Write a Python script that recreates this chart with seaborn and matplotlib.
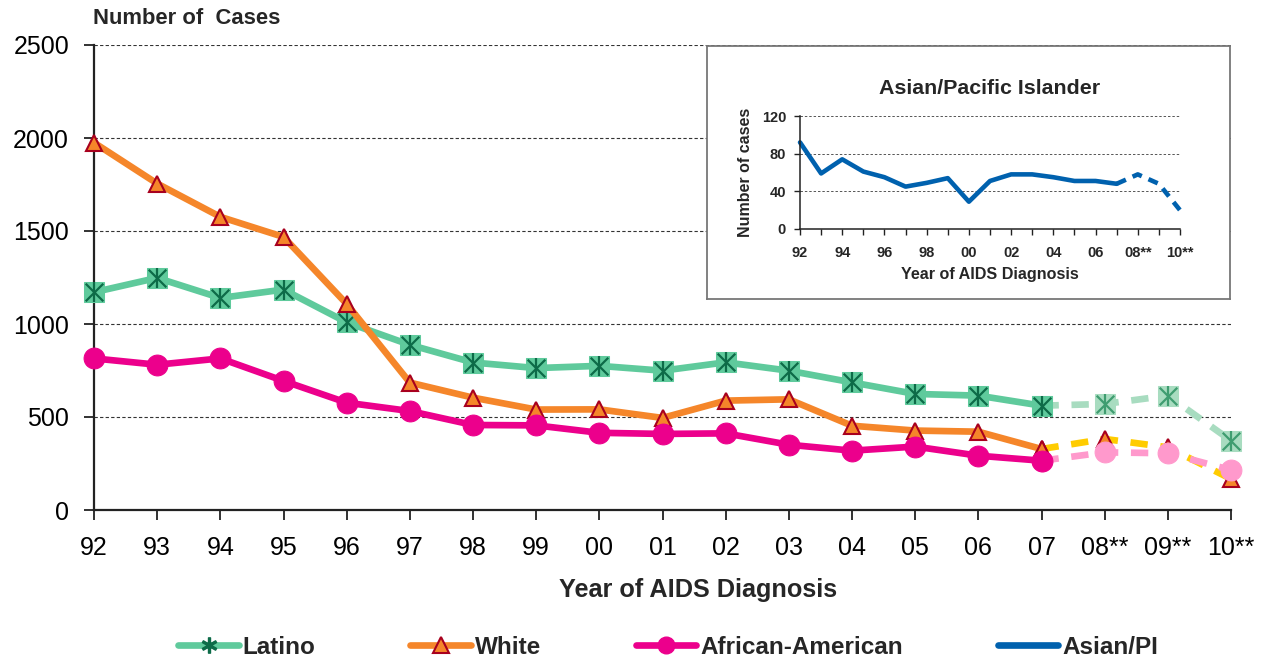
import matplotlib
matplotlib.use("Agg")
import matplotlib.pyplot as plt
from matplotlib.lines import Line2D
import seaborn as sns
import numpy as np
import pandas as pd

years = ['92', '93', '94', '95', '96', '97', '98', '99', '00', '01', '02',
         '03', '04', '05', '06', '07', '08**', '09**', '10**']
latino = [1171, 1248, 1140, 1185, 1009, 888, 793, 763, 775, 749, 794,
          749, 686, 624, 615, 561, 570, 615, 373]
white = [1975, 1755, 1576, 1468, 1108, 685, 604, 540, 541, 495, 588,
         595, 453, 427, 421, 328, 382, 337, 167]
african_american = [815, 781, 815, 694, 577, 532, 457, 455, 415, 409, 412,
                     351, 319, 341, 292, 265, 310, 305, 215]
asian_pi = [92, 59, 74, 61, 55, 45, 49, 54, 29, 51, 58, 58, 55, 51, 51,
            48, 58, 48, 20]
inset_labels = ['92', '', '94', '', '96', '', '98', '', '00', '', '02', '',
                '04', '', '06', '', '08**', '', '10**']

N_ACTUAL = 16  # 92..07 observed, 08-10 projected

sns.set_theme(style="white")
plt.rcParams['font.family'] = ['Liberation Sans', 'DejaVu Sans']

df = pd.DataFrame({'pos': np.arange(len(years)), 'year': years,
                   'Latino': latino, 'White': white,
                   'African-American': african_american, 'Asian/PI': asian_pi})
obs = df.iloc[:N_ACTUAL]
proj = df.iloc[N_ACTUAL - 1:]

fig = plt.figure(figsize=(12.62, 6.6), dpi=100)
ax = fig.add_axes([94 / 1262, 150 / 660, (1231 - 94) / 1262, (510 - 45) / 660])

LW = 4.8
G_LINE, G_DARK = '#5fca9c', '#0d6b48'
G_PALE, G_PALE_DARK = '#a8dcc0', '#3f9d70'
ORANGE, DARKRED = '#f5862a', '#a8001e'
YELLOW = '#ffcc00'
MAGENTA, PINK = '#ec008c', '#ff99cc'
BLUE = '#0061ae'
dash = (2.6, 1.9)

# projected (dashed) segments first
sns.lineplot(data=proj, x='pos', y='Latino', ax=ax, color=G_PALE, lw=LW,
             linestyle=(0, dash), marker='s', markersize=15,
             markerfacecolor=G_PALE, markeredgecolor=G_PALE, zorder=2)
sns.scatterplot(data=proj.iloc[1:], x='pos', y='Latino', ax=ax, marker='x',
                s=160, color=G_PALE_DARK, linewidth=1.6, zorder=3)
sns.scatterplot(data=proj.iloc[1:], x='pos', y='Latino', ax=ax, marker='|',
                s=200, color=G_PALE_DARK, linewidth=1.6, zorder=3)
sns.lineplot(data=proj, x='pos', y='White', ax=ax, color=YELLOW, lw=LW,
             linestyle=(0, dash), marker='^', markersize=11,
             markerfacecolor=ORANGE, markeredgecolor=DARKRED,
             markeredgewidth=1.5, zorder=2)
sns.lineplot(data=proj, x='pos', y='African-American', ax=ax, color=PINK,
             lw=LW, linestyle=(0, dash), marker='o', markersize=15,
             markerfacecolor=PINK, markeredgecolor=PINK, zorder=2)

# observed segments
sns.lineplot(data=obs, x='pos', y='Latino', ax=ax, color=G_LINE, lw=LW,
             marker='s', markersize=15, markerfacecolor=G_LINE,
             markeredgecolor=G_LINE, zorder=4)
sns.scatterplot(data=obs, x='pos', y='Latino', ax=ax, marker='x', s=160,
                color=G_DARK, linewidth=1.6, zorder=5)
sns.scatterplot(data=obs, x='pos', y='Latino', ax=ax, marker='|', s=200,
                color=G_DARK, linewidth=1.6, zorder=5)
sns.lineplot(data=obs, x='pos', y='White', ax=ax, color=ORANGE, lw=LW,
             marker='^', markersize=11, markerfacecolor=ORANGE,
             markeredgecolor=DARKRED, markeredgewidth=1.5, zorder=6)
sns.lineplot(data=obs, x='pos', y='African-American', ax=ax, color=MAGENTA,
             lw=LW, marker='o', markersize=15, markerfacecolor=MAGENTA,
             markeredgecolor=MAGENTA, zorder=7)

ax.set_xlim(0, len(years) - 1)
ax.set_ylim(0, 2500)
ax.set_xticks(df['pos'])
ax.set_xticklabels(years)
ax.set_yticks([0, 500, 1000, 1500, 2000, 2500])
ax.set_xlabel('')
ax.set_ylabel('')
ax.tick_params(axis='both', direction='out', length=7, width=1.3,
               color='#222222', labelsize=18, labelcolor='black',
               bottom=True, left=True)
ax.tick_params(axis='x', pad=12)
ax.tick_params(axis='y', pad=11)
ax.grid(axis='y', color='#333333', linestyle=(0, (3, 2)), lw=0.8)
ax.grid(axis='x', visible=False)
for s in ['top', 'right']:
    ax.spines[s].set_visible(False)
for s in ['left', 'bottom']:
    ax.spines[s].set_color('#222222')
    ax.spines[s].set_linewidth(1.6)
ax.set_axisbelow(True)
for c in ax.collections:
    c.set_clip_on(False)
for l in ax.lines:
    l.set_clip_on(False)

fig.text(93 / 1262, 1 - 19 / 660, 'Number of  Cases', fontsize=15.8,
         fontweight='bold', ha='left', va='center')
fig.text(698 / 1262, 1 - 590 / 660, 'Year of AIDS Diagnosis', fontsize=18.2,
         fontweight='bold', ha='center', va='center')

# inset frame
box = fig.add_axes([707 / 1262, (660 - 299) / 660, (1230 - 707) / 1262,
                    (299 - 46) / 660])
box.set_xticks([])
box.set_yticks([])
box.set_facecolor('white')
for s in box.spines.values():
    s.set_color('#777777')
    s.set_linewidth(1.3)
box.set_zorder(10)

iax = fig.add_axes([800 / 1262, (660 - 229) / 660, 380 / 1262, 113 / 660])
iax.set_zorder(11)
iax.patch.set_alpha(0)
sns.lineplot(data=obs, x='pos', y='Asian/PI', ax=iax, color=BLUE, lw=3.3)
sns.lineplot(data=proj, x='pos', y='Asian/PI', ax=iax, color=BLUE, lw=3.3,
             linestyle=(0, (2.2, 1.6)))
for l in iax.lines:
    l.set_clip_on(False)
iax.set_xlim(0, len(years) - 1)
iax.set_ylim(0, 120)
iax.set_yticks([0, 40, 80, 120])
iax.set_xticks(df['pos'])
iax.set_xticklabels(inset_labels)
iax.tick_params(axis='both', direction='out', length=4, width=1,
                labelsize=10.5, color='#222222', bottom=True, left=True)
iax.tick_params(axis='x', pad=8)
iax.tick_params(axis='y', pad=6)
for t in iax.get_xticklabels() + iax.get_yticklabels():
    t.set_fontweight('bold')
iax.grid(axis='y', color='#555555', linestyle=(0, (2.5, 2)), lw=0.7)
iax.grid(axis='x', visible=False)
for s in ['top', 'right']:
    iax.spines[s].set_visible(False)
for s in ['left', 'bottom']:
    iax.spines[s].set_color('#222222')
    iax.spines[s].set_linewidth(1.1)
iax.set_xlabel('Year of AIDS Diagnosis', fontsize=11.6, fontweight='bold',
               labelpad=5)
iax.set_ylabel('Number of cases', fontsize=11.5, fontweight='bold', labelpad=6)
iax.set_title('Asian/Pacific Islander', fontsize=15.4, fontweight='bold',
              pad=16)

handles = [
    Line2D([], [], color=G_LINE, lw=LW, marker='$\\ast$', markersize=11,
           markerfacecolor=G_DARK, markeredgecolor=G_DARK),
    Line2D([], [], color=ORANGE, lw=LW, marker='^', markersize=11,
           markerfacecolor=ORANGE, markeredgecolor=DARKRED,
           markeredgewidth=1.5),
    Line2D([], [], color=MAGENTA, lw=LW, marker='o', markersize=12,
           markerfacecolor=MAGENTA, markeredgecolor=MAGENTA),
    Line2D([], [], color=BLUE, lw=LW),
]
leg = fig.legend(handles, ['Latino', 'White', 'African-American', 'Asian/PI'],
                 loc='center', bbox_to_anchor=(668 / 1262, 1 - 647 / 660),
                 ncol=4, frameon=False, handlelength=2.5, handletextpad=0.15,
                 columnspacing=3.9, prop={'size': 17.5, 'weight': 'bold'})

fig.savefig('out.png', dpi=100)
